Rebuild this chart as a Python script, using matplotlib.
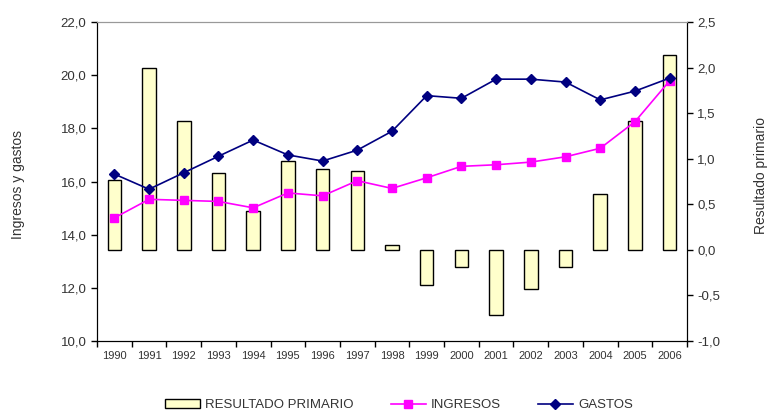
import matplotlib
matplotlib.use('Agg')
import matplotlib.pyplot as plt
from matplotlib.ticker import FuncFormatter, FixedLocator, MultipleLocator

# Data
years = ['1990', '1991', '1992', '1993', '1994', '1995', '1996', '1997', '1998',
         '1999', '2000', '2001', '2002', '2003', '2004', '2005', '2006']
resultado = [0.77, 1.99, 1.41, 0.84, 0.43, 0.98, 0.89, 0.87, 0.05,
             -0.39, -0.19, -0.71, -0.43, -0.19, 0.61, 1.41, 2.14]
ingresos = [14.63, 15.33, 15.29, 15.25, 15.01, 15.57, 15.46, 16.03, 15.74,
            16.14, 16.57, 16.63, 16.73, 16.93, 17.25, 18.25, 19.79]
gastos = [16.28, 15.71, 16.33, 16.95, 17.56, 17.00, 16.77, 17.18, 17.89,
          19.23, 19.13, 19.85, 19.85, 19.74, 19.07, 19.40, 19.89]

text_color = '#333333'
plt.rcParams['font.family'] = ['Liberation Sans', 'DejaVu Sans']

fig = plt.figure(figsize=(7.69, 4.16), dpi=100)
ax = fig.add_axes([0.1261, 0.1803, 0.7673, 0.7668])
ax2 = ax.twinx()

x = list(range(len(years)))

# Bars on the right axis
bars = ax2.bar(x, resultado, width=0.39, color='#FFFFCC', edgecolor='black',
               linewidth=1.0, label='RESULTADO PRIMARIO')
ax2.set_ylim(-1.0, 2.5)
ax2.yaxis.set_major_locator(MultipleLocator(0.5))

# Lines on the left axis
l1, = ax.plot(x, ingresos, color='#FF00FF', marker='s', markersize=5.5,
              linewidth=1.2, label='INGRESOS')
l2, = ax.plot(x, gastos, color='#000080', marker='D', markersize=5.5,
              linewidth=1.2, label='GASTOS')
ax.set_ylim(10, 22)
ax.yaxis.set_major_locator(MultipleLocator(2))

# lines above bars
ax.set_zorder(ax2.get_zorder() + 1)
ax.patch.set_visible(False)

ax.set_xlim(-0.5, len(years) - 0.5)
ax.set_xticks(x)
ax.set_xticklabels(years)
ax.xaxis.set_minor_locator(FixedLocator([i - 0.5 for i in range(len(years) + 1)]))
ax.tick_params(axis='x', which='major', length=0, labelsize=8, pad=7,
               labelcolor=text_color)
ax.tick_params(axis='x', which='minor', length=4, width=1, direction='out')

comma = FuncFormatter(lambda v, p: f'{v:.1f}'.replace('.', ','))
ax.yaxis.set_major_formatter(comma)
ax2.yaxis.set_major_formatter(comma)
ax.tick_params(axis='y', length=4, width=1, labelsize=9.5, labelcolor=text_color)
ax2.tick_params(axis='y', length=4, width=1, labelsize=9.5, labelcolor=text_color)

for a in (ax, ax2):
    a.spines['top'].set_color('#999999')
    a.spines['left'].set_color('black')
    a.spines['right'].set_color('black')
    a.spines['bottom'].set_color('black')

ax.set_ylabel('Ingresos y gastos', fontsize=10, color=text_color)
ax2.set_ylabel('Resultado primario', fontsize=10, color=text_color)
ax.yaxis.set_label_coords(-0.122, 0.49)
ax2.yaxis.set_label_coords(1.113, 0.52)

fig.legend(handles=[bars, l1, l2], loc='center left',
           bbox_to_anchor=(0.2077, 0.026), borderaxespad=0,
           ncol=3, frameon=False, fontsize=9.5, columnspacing=2.8,
           handlelength=2.65, handletextpad=0.4, labelcolor=text_color)

fig.savefig('out.png', dpi=100)
